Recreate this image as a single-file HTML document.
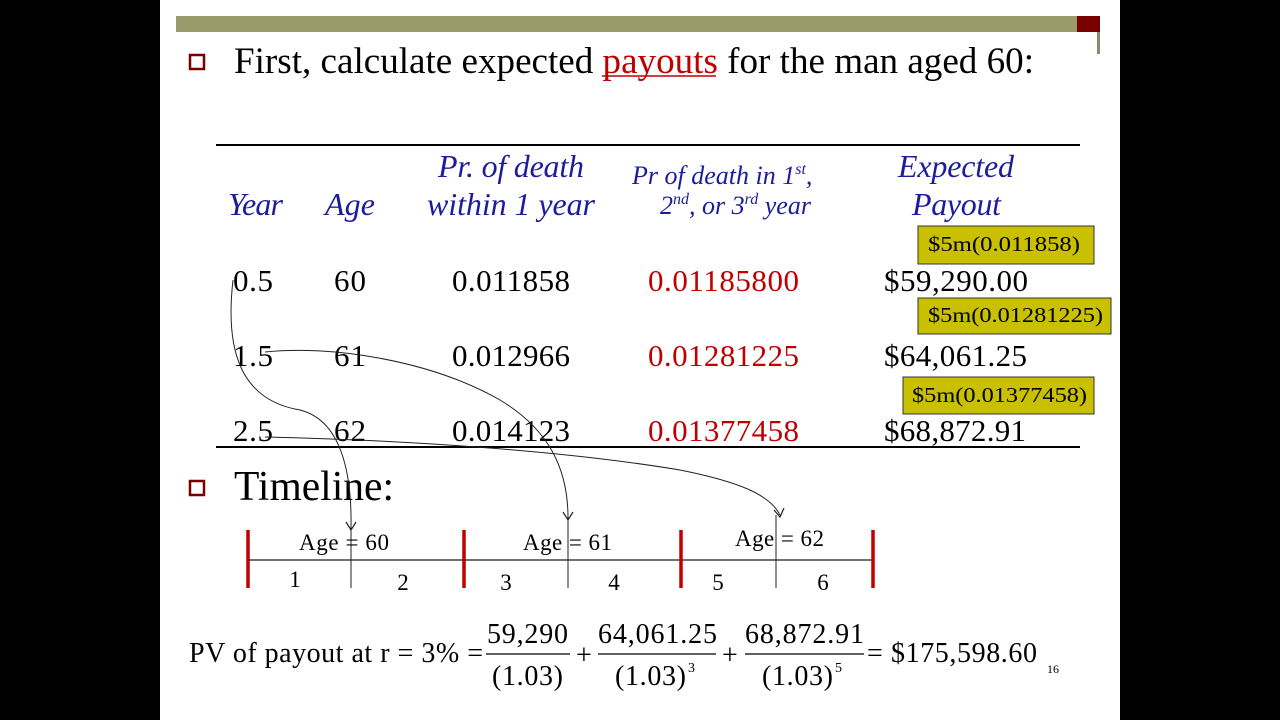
<!DOCTYPE html>
<html><head><meta charset="utf-8"><style>
html,body{margin:0;padding:0;background:#000;}
svg{display:block}
text{font-family:"Liberation Serif",serif;}
</style></head><body>
<svg width="1280" height="720" viewBox="0 0 1280 720" xmlns="http://www.w3.org/2000/svg">
<rect x="0" y="0" width="1280" height="720" fill="#000"/>
<rect x="160" y="0" width="960" height="720" fill="#fff"/>
<rect x="176" y="16" width="902" height="16" fill="#9a9a6a"/>
<rect x="1077" y="16" width="23" height="16" fill="#7a0000"/>
<rect x="1097" y="32" width="3" height="22" fill="#8a8a70"/>
<rect x="190" y="55" width="14" height="14" fill="none" stroke="#7a0000" stroke-width="2.5"/>
<text x="234" y="73" font-size="37" textLength="800" lengthAdjust="spacingAndGlyphs">First, calculate expected <tspan fill="#c00000">payouts</tspan> for the man aged 60:</text>
<line x1="602" y1="76" x2="716" y2="76" stroke="#c00000" stroke-width="1.5"/>
<line x1="216" y1="145" x2="1080" y2="145" stroke="#000" stroke-width="2"/>
<g fill="#1c1c9c" font-style="italic" font-size="32" lengthAdjust="spacingAndGlyphs">
<text x="228" y="215" textLength="55">Year</text>
<text x="325" y="215" textLength="50">Age</text>
<text x="438" y="177" textLength="146">Pr. of death</text>
<text x="427" y="215" textLength="168">within 1 year</text>
<text x="898" y="177" textLength="116">Expected</text>
<text x="912" y="215" textLength="89">Payout</text>
<text x="632" y="184" font-size="26">Pr of death in 1<tspan font-size="16" dy="-10">st</tspan><tspan dy="10">,</tspan></text>
<text x="660" y="214" font-size="26">2<tspan font-size="16" dy="-10">nd</tspan><tspan dy="10">, or 3</tspan><tspan font-size="16" dy="-10">rd</tspan><tspan dy="10"> year</tspan></text>
</g>
<rect x="918" y="226" width="176" height="38" fill="#c8c000" stroke="#333"/>
<text x="928" y="251" font-size="21" textLength="152" lengthAdjust="spacingAndGlyphs">$5m(0.011858)</text>
<rect x="918" y="298" width="193" height="36" fill="#c8c000" stroke="#333"/>
<text x="928" y="322" font-size="21" textLength="175" lengthAdjust="spacingAndGlyphs">$5m(0.01281225)</text>
<rect x="903" y="377" width="191" height="37" fill="#c8c000" stroke="#333"/>
<text x="912" y="402" font-size="21" textLength="175" lengthAdjust="spacingAndGlyphs">$5m(0.01377458)</text>
<g font-size="31" lengthAdjust="spacingAndGlyphs">
<text x="233" y="291" textLength="40">0.5</text><text x="334" y="291" textLength="32">60</text><text x="452" y="291" textLength="118">0.011858</text><text x="648" y="291" textLength="151" fill="#c00000">0.01185800</text><text x="884" y="291" textLength="144">$59,290.00</text>
<text x="233" y="366" textLength="40">1.5</text><text x="334" y="366" textLength="32">61</text><text x="452" y="366" textLength="118">0.012966</text><text x="648" y="366" textLength="151" fill="#c00000">0.01281225</text><text x="884" y="366" textLength="143">$64,061.25</text>
<text x="233" y="441" textLength="40">2.5</text><text x="334" y="441" textLength="32">62</text><text x="452" y="441" textLength="118">0.014123</text><text x="648" y="441" textLength="151" fill="#c00000">0.01377458</text><text x="884" y="441" textLength="142">$68,872.91</text>
</g>
<line x1="216" y1="447" x2="1080" y2="447" stroke="#000" stroke-width="2"/>
<rect x="190" y="481" width="14" height="14" fill="none" stroke="#7a0000" stroke-width="2.5"/>
<text x="234" y="500" font-size="42" textLength="160" lengthAdjust="spacingAndGlyphs">Timeline:</text>
<g fill="none" stroke="#222" stroke-width="1">
<path d="M233,280 C225,350 240,400 300,410 C340,420 352,470 351,528"/>
<path d="M265,352 C330,345 430,360 500,400 C550,430 568,470 568,518"/>
<path d="M265,437 C400,440 560,450 680,470 C740,482 770,495 780,515"/>
</g>
<g fill="none" stroke="#222" stroke-width="1.2">
<path d="M346,522 L351,530 L356,522"/><path d="M563,512 L568,520 L573,512"/><path d="M774,510 L780,517 L784,508"/>
</g>
<line x1="248" y1="560" x2="873" y2="560" stroke="#444" stroke-width="1.5"/>
<g stroke="#c00000" stroke-width="3.5"><line x1="248" y1="530" x2="248" y2="588"/><line x1="464" y1="530" x2="464" y2="588"/><line x1="681" y1="530" x2="681" y2="588"/><line x1="873" y1="530" x2="873" y2="588"/></g>
<g stroke="#222" stroke-width="1"><line x1="351" y1="528" x2="351" y2="588"/><line x1="568" y1="518" x2="568" y2="588"/><line x1="776" y1="515" x2="776" y2="588"/></g>
<g font-size="23" lengthAdjust="spacingAndGlyphs">
<text x="299" y="550" textLength="90">Age = 60</text><text x="523" y="550" textLength="89">Age = 61</text><text x="735" y="546" textLength="89">Age = 62</text>
</g>
<g font-size="23" text-anchor="middle">
<text x="295" y="587">1</text><text x="403" y="590">2</text><text x="506" y="590">3</text><text x="614" y="590">4</text><text x="718" y="590">5</text><text x="823" y="590">6</text>
</g>
<g font-size="28" lengthAdjust="spacingAndGlyphs">
<text x="189" y="662" textLength="294">PV of payout at r = 3% =</text>
<text x="487" y="643" textLength="81">59,290</text>
<text x="492" y="685" textLength="71">(1.03)</text>
<line x1="486" y1="654" x2="570" y2="654" stroke="#000" stroke-width="1.2"/>
<text x="576" y="664">+</text>
<text x="598" y="643" textLength="119">64,061.25</text>
<text x="615" y="685" textLength="71">(1.03)</text><text x="688" y="672" font-size="14">3</text>
<line x1="598" y1="654" x2="716" y2="654" stroke="#000" stroke-width="1.2"/>
<text x="722" y="664">+</text>
<text x="745" y="643" textLength="119">68,872.91</text>
<text x="762" y="685" textLength="71">(1.03)</text><text x="835" y="672" font-size="14">5</text>
<line x1="745" y1="654" x2="864" y2="654" stroke="#000" stroke-width="1.2"/>
<text x="867" y="662" textLength="170">= $175,598.60</text>
</g>
<text x="1047" y="673" font-size="12">16</text>
</svg>
</body></html>
